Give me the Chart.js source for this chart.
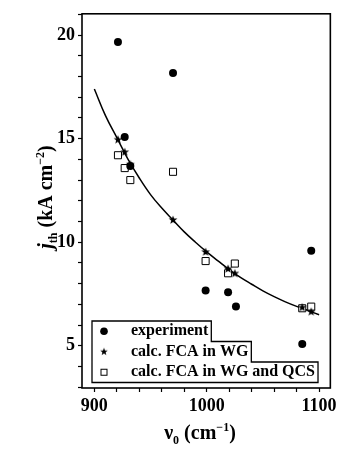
<!DOCTYPE html>
<html>
<head>
<meta charset="utf-8">
<script src="https://cdn.jsdelivr.net/npm/chart.js@4.4.1/dist/chart.umd.min.js"></script>
<style>
  html, body { margin: 0; padding: 0; background: #fff; }
  #wrap { width: 341px; height: 451px; }
</style>
</head>
<body>
<div id="wrap"><canvas id="chart" width="341" height="451"></canvas></div>
<script>
// wavenumbers of the devices (cm^-1)
const nuExp = [921, 927, 932, 970, 999, 1019, 1026, 1085, 1093];
const nuCalc = [921, 927, 932, 970, 999, 1019, 1025, 1085, 1093];

// threshold current densities (kA cm^-2)
const jExp = [19.67, 15.08, 13.68, 18.17, 7.67, 7.58, 6.9, 5.08, 9.59];
const jWG = [14.95, 14.35, 13.75, 11.07, 9.53, 8.71, 8.49, 6.85, 6.64];
const jWGQCS = [14.2, 13.58, 13.0, 13.4, 9.09, 8.5, 8.97, 6.81, 6.89];

// guide line through the WG values
const fitNu = [900, 910, 920, 930, 940, 950, 960, 970, 980, 990, 1000, 1010, 1020, 1030, 1040, 1050, 1060, 1070, 1080, 1090, 1100];
const fitJ = [17.4, 16.1, 15.05, 14.0, 13.1, 12.3, 11.65, 11.07, 10.5, 10.0, 9.53, 9.1, 8.68, 8.3, 7.97, 7.65, 7.37, 7.12, 6.9, 6.7, 6.5];

const seriesLabels = ['experiment', 'calc. FCA in WG', 'calc. FCA in WG and QCS'];

const SERIF = "'Liberation Serif', 'Times New Roman', serif";

function pts(xs, ys){
    return xs.map((x, i) => ({x: x, y: ys[i]}));
}

function makeStar(r){
    const c = document.createElement('canvas');
    const s = Math.ceil(r * 2) + 2;
    c.width = s;
    c.height = s;
    const ctx = c.getContext('2d');
    ctx.fillStyle = '#000';
    ctx.beginPath();
    for (let i = 0; i < 10; i++) {
        const rr = i % 2 ? r * 0.42 : r;
        const a = -Math.PI / 2 + i * Math.PI / 5;
        ctx.lineTo(s / 2 + rr * Math.cos(a), s / 2 + rr * Math.sin(a));
    }
    ctx.closePath();
    ctx.fill();
    return c;
}

const starImg = makeStar(4.6);
const starSmall = makeStar(4.0);

// draws a row of text pieces (for sub/superscripts), centred on x
function drawRuns(ctx, runs, x, y){
    let total = 0;
    runs.forEach(r => { ctx.font = r.font; r.w = ctx.measureText(r.text).width; total += r.w; });
    let cx = x - total / 2;
    runs.forEach(r => {
        ctx.font = r.font;
        ctx.fillText(r.text, cx, y + (r.dy || 0));
        cx += r.w;
    });
}

const frame = {
    id: 'frame',
    afterDatasetsDraw(chart){
        const {ctx, chartArea: a} = chart;
        ctx.save();
        ctx.strokeStyle = '#000';
        ctx.lineWidth = 1.6;
        ctx.strokeRect(a.left, a.top, a.right - a.left, a.bottom - a.top);
        ctx.restore();
    }
};

const axisTitles = {
    id: 'axisTitles',
    afterDraw(chart){
        const ctx = chart.ctx;
        const big = 'bold 20px ' + SERIF;
        const small = 'bold 12px ' + SERIF;
        ctx.save();
        ctx.fillStyle = '#000';
        ctx.textBaseline = 'alphabetic';
        ctx.textAlign = 'left';

        drawRuns(ctx, [
            {text: '\u03BD', font: big},
            {text: '0', font: small, dy: 5},
            {text: ' (cm', font: big},
            {text: '\u22121', font: small, dy: -8},
            {text: ')', font: big}
        ], 200, 439);

        ctx.translate(52, 197);
        ctx.rotate(-Math.PI / 2);
        drawRuns(ctx, [
            {text: 'j', font: 'italic bold 20px ' + SERIF},
            {text: 'th', font: small, dy: 5},
            {text: ' (kA cm', font: big},
            {text: '\u22122', font: small, dy: -8},
            {text: ')', font: big}
        ], 0, 0);
        ctx.restore();
    }
};

// legend in the lower left corner, with a stepped outline that follows each row
const stepLegend = {
    id: 'stepLegend',
    afterDraw(chart){
        const ctx = chart.ctx;
        const a = chart.chartArea;
        const left = a.left + 10;
        const symX = a.left + 22;
        const textX = a.left + 49;
        const rowH = 20.5;
        const top = a.bottom - 67;
        ctx.save();
        ctx.font = 'bold 16px ' + SERIF;
        const rights = seriesLabels.map(t => textX + ctx.measureText(t).width + 3);

        ctx.beginPath();
        ctx.moveTo(left, top);
        ctx.lineTo(rights[0], top);
        ctx.lineTo(rights[0], top + rowH);
        ctx.lineTo(rights[1], top + rowH);
        ctx.lineTo(rights[1], top + rowH * 2);
        ctx.lineTo(rights[2], top + rowH * 2);
        ctx.lineTo(rights[2], top + rowH * 3);
        ctx.lineTo(left, top + rowH * 3);
        ctx.closePath();
        ctx.fillStyle = '#fff';
        ctx.fill();
        ctx.lineWidth = 1.3;
        ctx.strokeStyle = '#000';
        ctx.stroke();

        ctx.fillStyle = '#000';
        ctx.textBaseline = 'middle';
        seriesLabels.forEach((t, i) => {
            const cy = top + rowH * i + rowH / 2;
            ctx.fillText(t, textX, cy);
            if (i === 0) {
                ctx.beginPath();
                ctx.arc(symX, cy, 3.8, 0, Math.PI * 2);
                ctx.fill();
            } else if (i === 1) {
                ctx.drawImage(starSmall, symX - starSmall.width / 2, cy - starSmall.height / 2);
            } else {
                ctx.lineWidth = 1;
                ctx.fillStyle = '#fff';
                ctx.fillRect(symX - 3, cy - 3, 6, 6);
                ctx.strokeRect(symX - 3, cy - 3, 6, 6);
                ctx.fillStyle = '#000';
            }
        });
        ctx.restore();
    }
};

const tickFont = {family: SERIF, size: 18, weight: 'bold'};

new Chart(document.getElementById('chart'), {
    type: 'scatter',
    data: {
        datasets: [{
            label: seriesLabels[0],
            data: pts(nuExp, jExp),
            pointStyle: 'circle',
            pointRadius: 4,
            backgroundColor: '#000',
            borderColor: '#000',
            borderWidth: 0
        }, {
            label: seriesLabels[1],
            data: pts(nuCalc, jWG),
            pointStyle: starImg,
            pointRadius: 4
        }, {
            label: seriesLabels[2],
            data: pts(nuCalc, jWGQCS),
            pointStyle: 'rect',
            pointRadius: 5,
            backgroundColor: '#fff',
            borderColor: '#000',
            borderWidth: 1
        }, {
            label: 'fit',
            data: pts(fitNu, fitJ),
            showLine: true,
            pointRadius: 0,
            borderColor: '#000',
            borderWidth: 1.5,
            tension: 0.4
        }]
    },
    options: {
        responsive: false,
        animation: false,
        devicePixelRatio: 1,
        layout: {padding: {top: 6, right: 8.7, left: 0, bottom: 0}},
        plugins: {
            legend: {display: false},
            tooltip: {enabled: false}
        },
        scales: {
            x: {
                type: 'linear',
                min: 889,
                max: 1110,
                afterBuildTicks: s => { s.ticks = s.ticks.filter(t => t.value % 20 === 0); },
                afterFit: s => { s.height = 63; },
                border: {display: false},
                grid: {drawOnChartArea: false, tickLength: 4, tickWidth: 1.2, tickColor: '#000'},
                ticks: {
                    stepSize: 20,
                    includeBounds: false,
                    autoSkip: false,
                    maxRotation: 0,
                    padding: 4,
                    color: '#000',
                    font: tickFont,
                    callback: v => v % 100 === 0 ? v : ''
                }
            },
            y: {
                type: 'linear',
                min: 2.96,
                max: 21.03,
                afterBuildTicks: s => { s.ticks = s.ticks.filter(t => Number.isInteger(t.value)); },
                afterFit: s => { s.width = 82; },
                border: {display: false},
                grid: {drawOnChartArea: false, tickLength: 4, tickWidth: 1.2, tickColor: '#000'},
                ticks: {
                    stepSize: 1,
                    includeBounds: false,
                    autoSkip: false,
                    padding: 3,
                    color: '#000',
                    font: tickFont,
                    callback: v => v % 5 === 0 ? v : ''
                }
            }
        }
    },
    plugins: [frame, axisTitles, stepLegend]
});
</script>
</body>
</html>
